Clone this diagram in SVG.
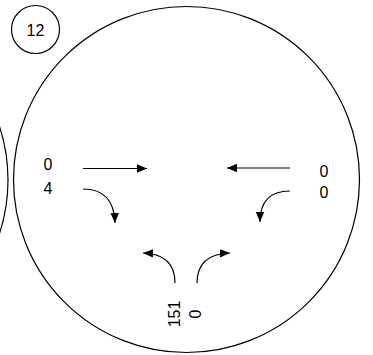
<svg xmlns="http://www.w3.org/2000/svg" width="373" height="355" viewBox="0 0 373 355">
<style>
.c{fill:none;stroke:#000;stroke-width:1.2}
.a{fill:none;stroke:#000;stroke-width:1.2;marker-end:url(#ah)}
text{font-family:"Liberation Sans",Arial,sans-serif;font-size:16px;fill:#000}
</style>
<defs>
<marker id="ah" viewBox="0 0 10 10" refX="10" refY="5" markerWidth="10" markerHeight="10" markerUnits="userSpaceOnUse" orient="auto">
<path d="M0,0.8 L10,5 L0,9.2 Z" fill="#000"/>
</marker>
</defs>
<rect width="373" height="355" fill="#fff"/>
<g id="node-left"><circle class="c" cx="-165" cy="180" r="173"/></g>
<g id="node-12"><circle class="c" cx="35.5" cy="29.5" r="24"/><text x="35.5" y="35.5" text-anchor="middle">12</text></g>
<g id="node-main">
<circle class="c" cx="186.5" cy="179.5" r="173"/>
<text x="48" y="170" text-anchor="middle">0</text>
<text x="48" y="194" text-anchor="middle">4</text>
<text x="324" y="177" text-anchor="middle">0</text>
<text x="324" y="198" text-anchor="middle">0</text>
<text transform="translate(180,314) rotate(-90)" text-anchor="middle">151</text>
<text transform="translate(201,314) rotate(-90)" text-anchor="middle">0</text>
</g>
<g id="connectors">
<path class="a" d="M83,168.5 L147,168.5"/>
<path class="a" d="M290,168 L227,168"/>
<path class="a" d="M83,189 Q114,189 115,223"/>
<path class="a" d="M290,191 Q260,191 260,222"/>
<path class="a" d="M175,283 Q175,254 143,253"/>
<path class="a" d="M197,283 Q197,254 230,253"/>
</g>
</svg>
